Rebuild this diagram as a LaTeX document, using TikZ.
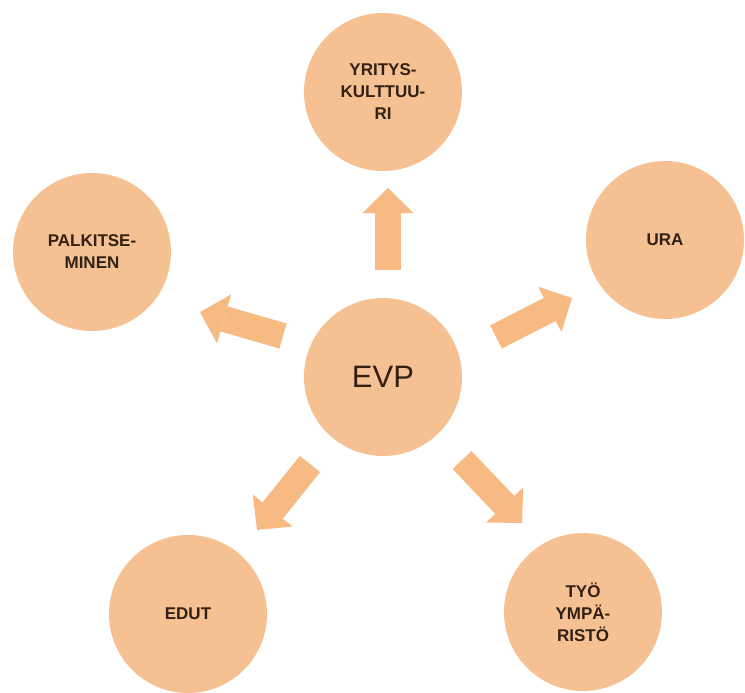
\documentclass[tikz,border=0pt]{standalone}
\usepackage{fontspec}
\setmainfont{Liberation Sans}
\usetikzlibrary{arrows.meta}
\definecolor{peach}{RGB}{246,193,146}
\definecolor{peacharrow}{RGB}{246,186,130}
\definecolor{darkbrown}{RGB}{50,32,20}
\tikzset{
  bubble/.style={circle, fill=peach, minimum size=158pt, inner sep=0pt, align=center,
    text=darkbrown, font=\fontsize{17}{22}\selectfont\bfseries},
  blockarrow/.style={draw=peacharrow, line width=26pt,
    -{Triangle[width=51pt,length=25pt,line width=0pt]}}
}
\begin{document}
\begin{tikzpicture}[x=1pt,y=-1pt]
\useasboundingbox (0,0) rectangle (745,693);
\clip (0,0) rectangle (745,693);
% circles
\node[bubble] (kult) at (383,92) {YRITYS-\\KULTTUU-\\RI};
\node[bubble] (ura) at (665,240) {URA};
\node[bubble] (palk) at (92,252) {PALKITSE-\\MINEN};
\node[bubble] (edut) at (188,614) {EDUT};
\node[bubble] (tyo) at (583,612) {TYÖ\\YMPÄ-\\RISTÖ};
\node[bubble, font=\fontsize{31}{36}\selectfont] (evp) at (383,377) {EVP};
% arrow ends
\coordinate (kulttail) at (388,270);  \coordinate (kulttip) at (388,188);
\coordinate (palktail) at (283,336);  \coordinate (palktip) at (200,312);
\coordinate (uratail) at (496,337);   \coordinate (uratip) at (572,298);
\coordinate (eduttail) at (310,464);  \coordinate (eduttip) at (257,530);
\coordinate (tyotail) at (462,460);   \coordinate (tyotip) at (522,523);
% arrows
\draw[blockarrow] (kulttail) -- (kulttip);
\draw[blockarrow] (palktail) -- (palktip);
\draw[blockarrow] (uratail) -- (uratip);
\draw[blockarrow] (eduttail) -- (eduttip);
\draw[blockarrow] (tyotail) -- (tyotip);
\end{tikzpicture}
\end{document}
